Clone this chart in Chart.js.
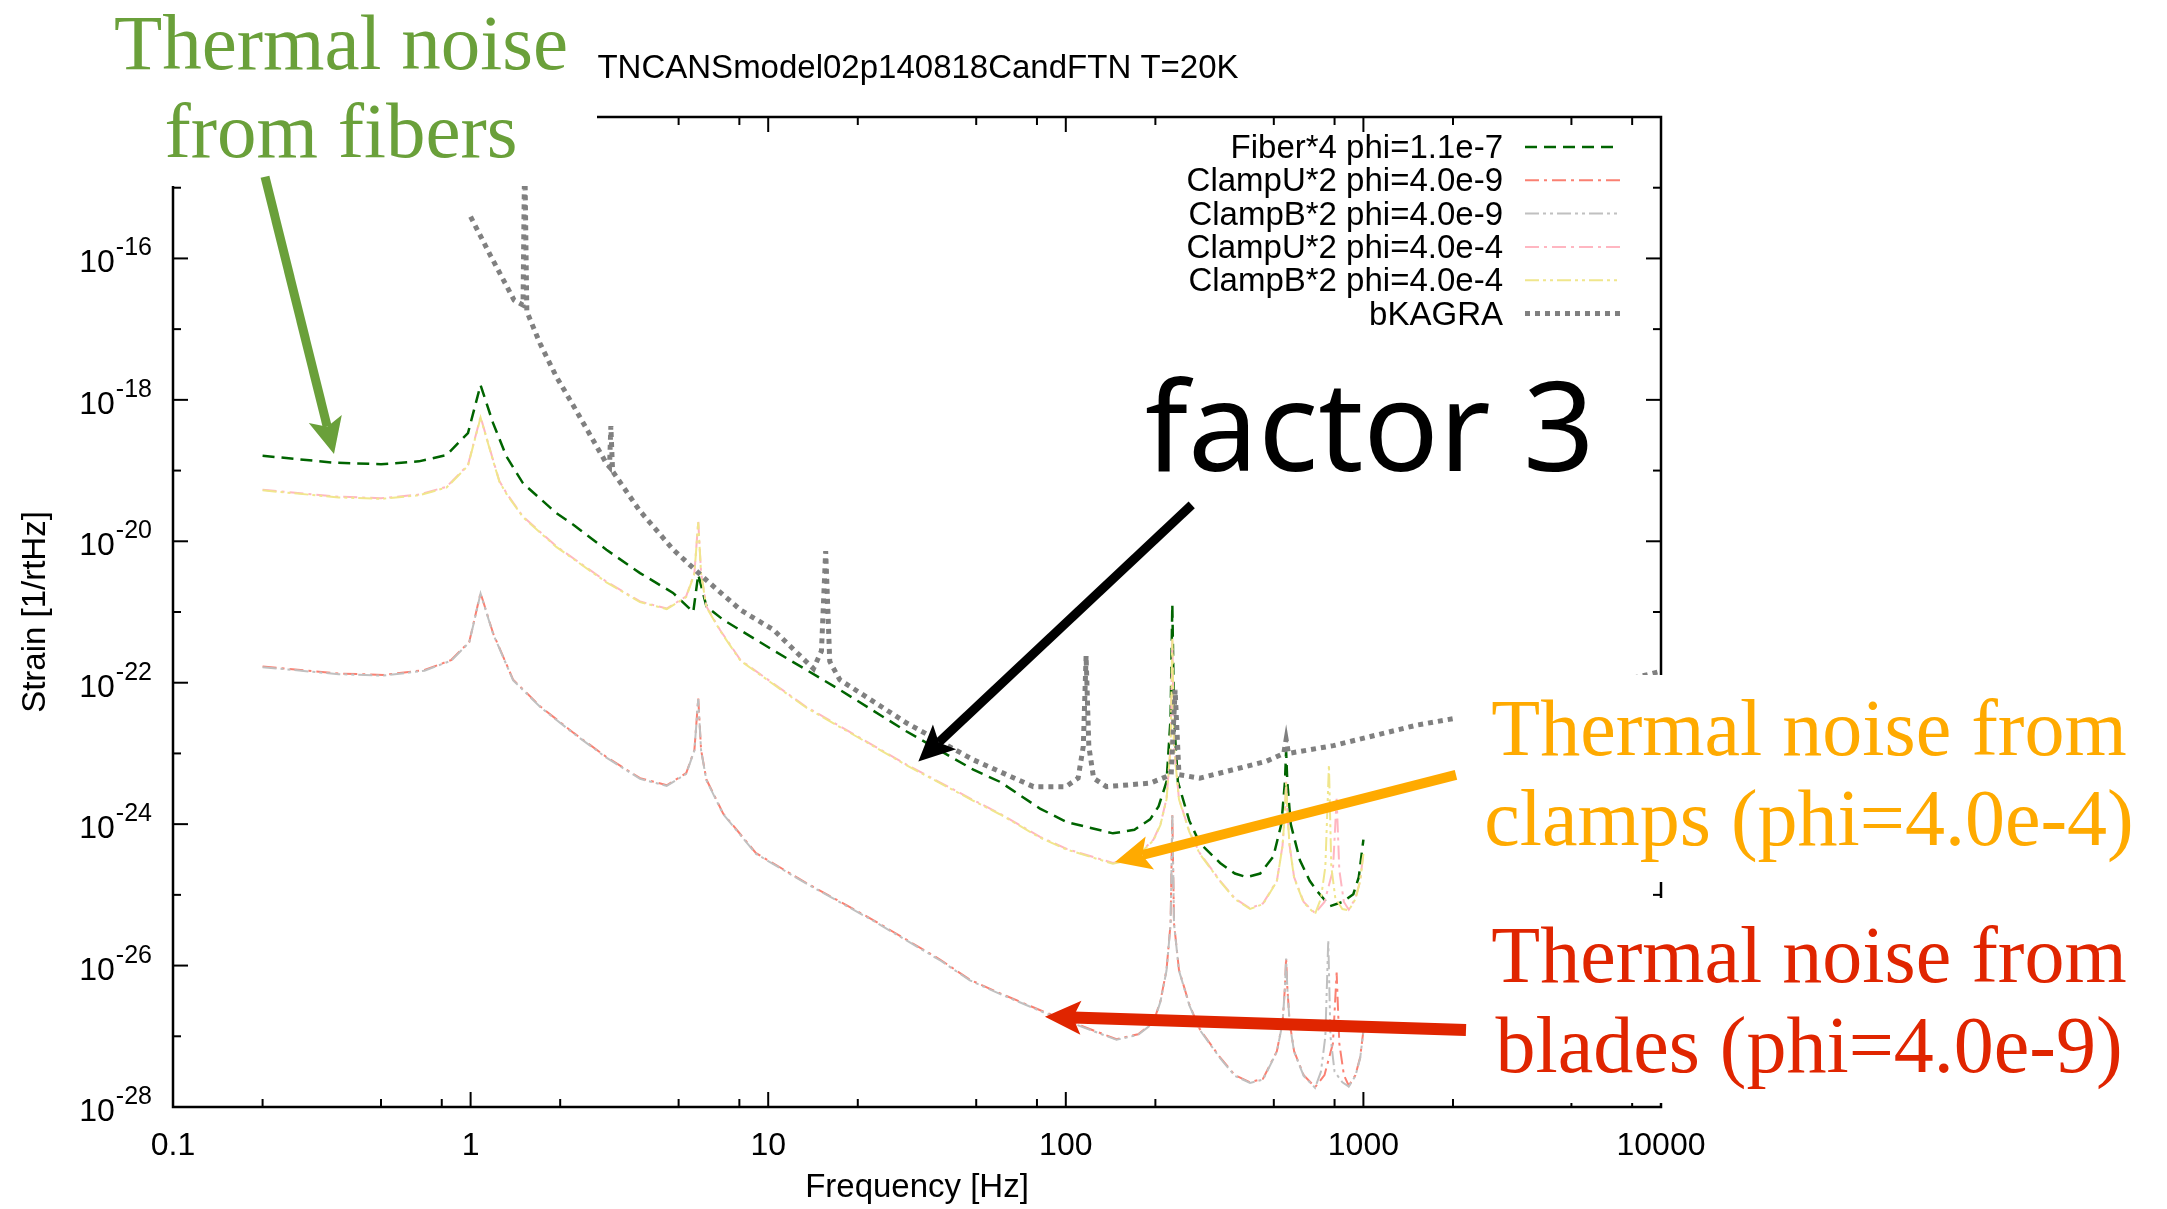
<!DOCTYPE html>
<html lang="en">
<head>
<meta charset="UTF-8">
<title>TNCANSmodel02p140818CandFTN T=20K</title>
<script src="https://cdn.jsdelivr.net/npm/chart.js"></script>
<style>
    html, body { margin: 0; padding: 0; background: #ffffff; overflow: hidden; }
    canvas { display: block; }
</style>
</head>
<body>
<canvas id="noiseChart" width="2167" height="1209"></canvas>
<script>
    // Values: frequency [Hz] and strain [1/rtHz]
    const fiberFreq = [0.2, 0.35, 0.5, 0.67, 0.83, 0.98, 1.08, 1.19, 1.32, 1.5, 1.94, 2.22, 2.86, 3.71, 4.79, 5.6, 5.82, 6.2, 7.06, 10.4, 17.4, 29.2, 48.9, 60, 81.9, 100.7, 144, 170, 192, 205, 218, 225, 228, 231, 238, 260, 282, 330, 370, 405, 450, 498, 530, 545, 550, 555, 570, 612, 660, 700, 772, 850, 925, 965, 1000];
    const fiberStrain = [1.62e-19, 1.29e-19, 1.23e-19, 1.35e-19, 1.66e-19, 3.39e-19, 1.62e-18, 4.68e-19, 1.58e-19, 6.61e-20, 2.51e-20, 1.70e-20, 7.59e-21, 3.55e-21, 1.86e-21, 1.0e-21, 3.39e-21, 1.20e-21, 7.76e-22, 2.88e-22, 7.94e-23, 2.04e-23, 5.89e-24, 3.98e-24, 1.66e-24, 1.07e-24, 7.41e-25, 8.32e-25, 1.17e-24, 1.78e-24, 3.98e-24, 3.16e-23, 1.29e-21, 3.16e-23, 3.98e-24, 1.12e-24, 5.37e-25, 2.82e-25, 2.0e-25, 1.78e-25, 2.0e-25, 3.47e-25, 1.0e-24, 3.98e-24, 1.07e-23, 3.98e-24, 1.0e-24, 3.09e-25, 1.58e-25, 1.12e-25, 6.92e-26, 7.94e-26, 1.02e-25, 1.78e-25, 6.03e-25];

    const clampU9Freq = [0.2, 0.36, 0.51, 0.7, 0.86, 0.99, 1.08, 1.19, 1.39, 1.72, 2.22, 2.86, 3.71, 4.56, 5.3, 5.65, 5.82, 5.95, 6.2, 7.06, 9.1, 13.4, 22.6, 38, 47.6, 60, 84, 148, 175, 197, 208, 218, 225, 228, 231, 240, 260, 282, 330, 370, 416, 460, 512, 535, 545, 550, 555, 565, 585, 630, 688, 740, 790, 813, 830, 860, 893, 940, 975, 1000];
    const clampU9Strain = [1.70e-22, 1.35e-22, 1.29e-22, 1.51e-22, 2.09e-22, 3.80e-22, 1.86e-21, 5.01e-22, 1.10e-22, 4.57e-23, 1.95e-23, 8.91e-24, 4.47e-24, 3.55e-24, 5.25e-24, 1.12e-23, 6.03e-23, 1.12e-23, 4.27e-24, 1.41e-24, 3.89e-25, 1.48e-25, 4.37e-26, 1.20e-26, 6.31e-27, 4.07e-27, 2.24e-27, 9.12e-28, 1.07e-27, 1.58e-27, 3.16e-27, 8.71e-27, 3.98e-26, 1.35e-24, 3.98e-26, 8.71e-27, 2.82e-27, 1.26e-27, 5.01e-28, 2.82e-28, 2.24e-28, 2.51e-28, 6.17e-28, 1.58e-27, 5.01e-27, 1.29e-26, 5.01e-27, 1.58e-27, 6.17e-28, 2.82e-28, 1.91e-28, 2.82e-28, 7.94e-28, 7.94e-27, 7.94e-28, 2.82e-28, 2.0e-28, 2.82e-28, 5.01e-28, 1.20e-27];

    const clampB9Freq = [0.2, 0.36, 0.51, 0.7, 0.86, 0.99, 1.08, 1.19, 1.39, 1.72, 2.22, 2.86, 3.71, 4.56, 5.3, 5.65, 5.82, 5.95, 6.2, 7.06, 9.1, 13.4, 22.6, 38, 47.6, 60, 84, 148, 175, 197, 208, 218, 225, 228, 231, 240, 260, 282, 330, 370, 416, 460, 512, 535, 545, 550, 555, 565, 585, 630, 688, 720, 745, 762, 775, 800, 850, 893, 940, 975, 1000];
    const clampB9Strain = [1.66e-22, 1.32e-22, 1.26e-22, 1.48e-22, 2.05e-22, 3.72e-22, 1.82e-21, 4.90e-22, 1.08e-22, 4.47e-23, 1.91e-23, 8.71e-24, 4.37e-24, 3.47e-24, 5.13e-24, 1.10e-23, 5.89e-23, 1.10e-23, 4.17e-24, 1.38e-24, 3.80e-25, 1.45e-25, 4.27e-26, 1.17e-26, 6.17e-27, 3.98e-27, 2.19e-27, 8.91e-28, 1.05e-27, 1.55e-27, 3.09e-27, 8.51e-27, 3.89e-26, 1.32e-24, 3.89e-26, 8.51e-27, 2.75e-27, 1.23e-27, 4.90e-28, 2.75e-28, 2.19e-28, 2.45e-28, 6.03e-28, 1.55e-27, 4.90e-27, 1.26e-26, 4.90e-27, 1.55e-27, 6.03e-28, 2.75e-28, 1.87e-28, 3.16e-28, 1.0e-27, 2.29e-26, 1.0e-27, 3.16e-28, 2.24e-28, 1.95e-28, 2.75e-28, 4.90e-28, 1.17e-27];

    const clampU4Freq = [0.2, 0.36, 0.5, 0.67, 0.83, 0.98, 1.08, 1.19, 1.25, 1.32, 1.5, 1.94, 2.86, 3.71, 4.56, 5.3, 5.65, 5.82, 5.95, 6.2, 6.88, 8.07, 13.4, 29.2, 48.9, 60, 81.9, 100.7, 144, 170, 197, 208, 218, 225, 228, 231, 240, 260, 282, 330, 370, 416, 460, 512, 535, 545, 550, 555, 565, 585, 630, 688, 740, 790, 813, 830, 860, 893, 940, 975, 1000];
    const clampU4Strain = [5.37e-20, 4.27e-20, 4.07e-20, 4.57e-20, 5.89e-20, 1.20e-19, 5.75e-19, 1.41e-19, 7.08e-20, 4.79e-20, 2.24e-20, 8.51e-21, 2.69e-21, 1.41e-21, 1.12e-21, 1.66e-21, 3.55e-21, 1.91e-20, 3.55e-21, 1.20e-21, 5.62e-22, 2.09e-22, 4.57e-23, 6.92e-24, 2.19e-24, 1.41e-24, 6.61e-25, 4.47e-25, 2.82e-25, 3.31e-25, 6.03e-25, 1.0e-24, 2.29e-24, 1.26e-23, 4.27e-22, 1.26e-23, 2.29e-24, 7.94e-25, 3.89e-25, 1.58e-25, 8.91e-26, 6.46e-26, 7.59e-26, 1.58e-25, 5.01e-25, 1.58e-24, 3.98e-24, 1.58e-24, 5.01e-25, 1.78e-25, 7.94e-26, 5.50e-26, 7.94e-26, 2.24e-25, 2.29e-24, 2.24e-25, 7.94e-26, 6.17e-26, 8.91e-26, 1.58e-25, 3.89e-25];

    const clampB4Freq = [0.2, 0.36, 0.5, 0.67, 0.83, 0.98, 1.08, 1.19, 1.25, 1.32, 1.5, 1.94, 2.86, 3.71, 4.56, 5.3, 5.65, 5.82, 5.95, 6.2, 6.88, 8.07, 13.4, 29.2, 48.9, 60, 81.9, 100.7, 144, 170, 197, 208, 218, 225, 228, 231, 240, 260, 282, 330, 370, 416, 460, 512, 535, 545, 550, 555, 565, 585, 630, 688, 720, 745, 766, 780, 805, 850, 893, 940, 975, 1000];
    const clampB4Strain = [5.25e-20, 4.17e-20, 3.98e-20, 4.47e-20, 5.75e-20, 1.17e-19, 5.62e-19, 1.38e-19, 6.92e-20, 4.68e-20, 2.19e-20, 8.32e-21, 2.63e-21, 1.38e-21, 1.10e-21, 1.62e-21, 3.47e-21, 1.86e-20, 3.47e-21, 1.17e-21, 5.50e-22, 2.04e-22, 4.47e-23, 6.76e-24, 2.14e-24, 1.38e-24, 6.46e-25, 4.37e-25, 2.75e-25, 3.24e-25, 5.89e-25, 9.77e-25, 2.24e-24, 1.23e-23, 4.17e-22, 1.23e-23, 2.24e-24, 7.76e-25, 3.80e-25, 1.55e-25, 8.71e-26, 6.31e-26, 7.41e-26, 1.55e-25, 4.90e-25, 1.55e-24, 3.89e-24, 1.55e-24, 4.90e-25, 1.74e-25, 7.76e-26, 5.37e-26, 8.91e-26, 2.51e-25, 6.92e-24, 2.51e-25, 8.91e-26, 6.31e-26, 6.03e-26, 8.71e-26, 1.55e-25, 3.80e-25];

    const kagraFreq = [1.0, 1.17, 1.40, 1.50, 1.52, 1.545, 1.71, 1.94, 2.22, 2.54, 2.86, 2.93, 2.96, 3.0, 3.69, 4.8, 6.2, 8.07, 10.4, 13.4, 14.2, 15.1, 15.6, 16.1, 17.4, 29.2, 48.9, 77.8, 100, 110, 114.5, 117, 119.5, 124, 137, 192, 226, 233, 240, 282, 473, 540, 550, 560, 793, 1510, 2056, 5000, 10000];
    const kagraStrain = [3.89e-16, 1.07e-16, 2.57e-17, 2.19e-17, 3.16e-15, 1.78e-17, 6.31e-18, 2.14e-18, 8.13e-19, 3.02e-19, 1.26e-19, 1.12e-19, 4.27e-19, 9.77e-20, 2.75e-20, 7.59e-21, 2.82e-21, 1.07e-21, 5.62e-22, 2.0e-22, 1.58e-22, 2.82e-22, 7.24e-21, 2.0e-22, 1.10e-22, 2.69e-23, 8.13e-24, 3.39e-24, 3.39e-24, 4.47e-24, 1.26e-23, 2.40e-22, 1.26e-23, 4.47e-24, 3.39e-24, 3.80e-24, 5.01e-24, 7.94e-23, 5.01e-24, 4.47e-24, 7.76e-24, 1.0e-23, 1.58e-23, 1.0e-23, 1.29e-23, 2.51e-23, 3.16e-23, 7.08e-23, 1.45e-22];

    // Axis ticks
    const xTickValues = [0.1, 1, 10, 100, 1000, 10000];
    const xTickLabels = ['0.1', '1', '10', '100', '1000', '10000'];
    const xMinorTicks = [0.2, 0.5, 0.8, 2, 5, 8, 20, 50, 80, 200, 500, 800, 2000, 5000, 8000];
    const yDecadeExps = [-28, -27, -26, -25, -24, -23, -22, -21, -20, -19, -18, -17, -16, -15, -14];
    const yLabelExps = [-28, -26, -24, -22, -20, -18, -16];

    // Slide annotations (arrows in data coordinates: [Hz, strain])
    const arrowNotes = [
        { from: [0.2038, 1.43e-15], to: [0.3475, 1.72e-19], color: '#6aa03a', width: 9 },
        { from: [264.9, 3.27e-20], to: [31.95, 7.66e-24], color: '#000000', width: 9 },
        { from: [2047, 4.97e-24], to: [146.3, 2.92e-25], color: '#ffaa00', width: 10 },
        { from: [2212, 1.23e-27], to: [85.1, 1.89e-27], color: '#e02500', width: 12 }
    ];

    const toPoints = (freq, strain) => freq.map((f, i) => ({ x: f, y: strain[i] }));

    function series(label, freq, strain, color, dash, width, order) {
        return {
            label: label,
            data: toPoints(freq, strain),
            borderColor: color,
            borderDash: dash,
            borderWidth: width,
            pointRadius: 0,
            tension: 0,
            fill: false,
            order: order
        };
    }

    function arrow(ctx, x1, y1, x2, y2, w, color) {
        const ang = Math.atan2(y2 - y1, x2 - x1);
        const c = Math.cos(ang), s = Math.sin(ang);
        const hl = 36, hw = 17;
        const bx = x2 - c * hl * 0.78, by = y2 - s * hl * 0.78;
        ctx.setLineDash([]);
        ctx.strokeStyle = color;
        ctx.fillStyle = color;
        ctx.lineWidth = w;
        ctx.lineCap = 'butt';
        ctx.beginPath();
        ctx.moveTo(x1, y1);
        ctx.lineTo(bx, by);
        ctx.stroke();
        ctx.beginPath();
        ctx.moveTo(x2, y2);
        ctx.lineTo(x2 - c * hl - s * hw, y2 - s * hl + c * hw);
        ctx.lineTo(bx, by);
        ctx.lineTo(x2 - c * hl + s * hw, y2 - s * hl - c * hw);
        ctx.closePath();
        ctx.fill();
    }

    // Box frame with inward ticks on all four sides, and 10^n labels
    const frameTicks = {
        id: 'frameTicks',
        afterDatasetsDraw(chart) {
            const { ctx, chartArea: a, scales: { x, y } } = chart;
            ctx.save();
            ctx.setLineDash([]);
            ctx.strokeStyle = '#000';
            ctx.lineWidth = 2.5;
            ctx.strokeRect(a.left, a.top, a.right - a.left, a.bottom - a.top);
            ctx.lineWidth = 2;
            const seg = (x1, y1, x2, y2) => { ctx.beginPath(); ctx.moveTo(x1, y1); ctx.lineTo(x2, y2); ctx.stroke(); };
            xTickValues.forEach(v => {
                const px = x.getPixelForValue(v);
                seg(px, a.bottom, px, a.bottom - 15);
                seg(px, a.top, px, a.top + 15);
            });
            xMinorTicks.forEach(v => {
                const px = x.getPixelForValue(v);
                seg(px, a.bottom, px, a.bottom - 8);
                seg(px, a.top, px, a.top + 8);
            });
            yDecadeExps.forEach(e => {
                const py = y.getPixelForValue(Math.pow(10, e));
                const len = (e % 2 === 0) ? 15 : 8;
                seg(a.left, py, a.left + len, py);
                seg(a.right, py, a.right - len, py);
            });
            ctx.fillStyle = '#000';
            ctx.textBaseline = 'alphabetic';
            ctx.textAlign = 'right';
            yLabelExps.forEach(e => {
                const py = y.getPixelForValue(Math.pow(10, e));
                ctx.font = '25px "Liberation Sans", Arial, sans-serif';
                const sup = String(e);
                const supW = ctx.measureText(sup).width;
                ctx.fillText(sup, 152, py - 3);
                ctx.font = '32px "Liberation Sans", Arial, sans-serif';
                ctx.fillText('10', 151 - supW, py + 14);
            });
            ctx.restore();
        }
    };

    // White panels, slide captions, arrows and the key
    const slideNotes = {
        id: 'slideNotes',
        afterDraw(chart) {
            const { ctx, scales: { x, y } } = chart;
            ctx.save();
            ctx.fillStyle = '#ffffff';
            ctx.fillRect(0, 0, 597, 186);
            ctx.fillRect(1456, 675, 711, 207);
            ctx.fillRect(1456, 898, 711, 205);

            ctx.textBaseline = 'alphabetic';
            ctx.textAlign = 'center';
            ctx.font = '79px "Liberation Serif", "Times New Roman", serif';
            ctx.fillStyle = '#6aa03a';
            ctx.fillText('Thermal noise', 341, 69);
            ctx.fillText('from fibers', 341, 157);

            ctx.font = '80px "Liberation Serif", "Times New Roman", serif';
            ctx.fillStyle = '#ffaa00';
            ctx.fillText('Thermal noise from', 1809, 755);
            ctx.fillText('clamps (phi=4.0e-4)', 1809, 845);
            ctx.fillStyle = '#e02500';
            ctx.fillText('Thermal noise from', 1809, 982);
            ctx.fillText('blades (phi=4.0e-9)', 1809, 1072);

            ctx.textAlign = 'left';
            ctx.font = '125px "Noto Sans", sans-serif';
            ctx.fillStyle = '#000000';
            ctx.fillText('factor 3', 1145, 471);

            ctx.textAlign = 'center';
            ctx.font = '33px "Liberation Sans", Arial, sans-serif';
            ctx.fillText('TNCANSmodel02p140818CandFTN T=20K', 918, 78);

            arrowNotes.forEach(n => {
                arrow(ctx,
                    x.getPixelForValue(n.from[0]), y.getPixelForValue(n.from[1]),
                    x.getPixelForValue(n.to[0]), y.getPixelForValue(n.to[1]),
                    n.width, n.color);
            });

            // key, top right inside the frame
            ctx.font = '33px "Liberation Sans", Arial, sans-serif';
            ctx.textAlign = 'right';
            chart.data.datasets.forEach((ds, i) => {
                const rowY = 147 + i * 33.3;
                ctx.fillStyle = '#000';
                ctx.fillText(ds.label, 1503, rowY + 11);
                ctx.strokeStyle = ds.borderColor;
                ctx.lineWidth = ds.borderWidth;
                ctx.setLineDash(ds.borderDash);
                ctx.beginPath();
                ctx.moveTo(1525, rowY);
                ctx.lineTo(1620, rowY);
                ctx.stroke();
            });
            ctx.restore();
        }
    };

    Chart.defaults.font.family = '"Liberation Sans", Arial, sans-serif';
    Chart.defaults.color = '#000000';

    const ctx = document.getElementById('noiseChart').getContext('2d');
    new Chart(ctx, {
        type: 'line',
        data: {
            datasets: [
                series('Fiber*4 phi=1.1e-7', fiberFreq, fiberStrain, '#006400', [12, 7], 2.5, 6),
                series('ClampU*2 phi=4.0e-9', clampU9Freq, clampU9Strain, '#fa8072', [14, 5, 3, 5], 2, 5),
                series('ClampB*2 phi=4.0e-9', clampB9Freq, clampB9Strain, '#c0c0c0', [14, 4, 3, 4, 3, 4], 2, 4),
                series('ClampU*2 phi=4.0e-4', clampU4Freq, clampU4Strain, '#ffb6c1', [14, 5, 3, 5], 2, 3),
                series('ClampB*2 phi=4.0e-4', clampB4Freq, clampB4Strain, '#f0e68c', [14, 4, 3, 4, 3, 4], 2, 2),
                series('bKAGRA', kagraFreq, kagraStrain, '#808080', [5, 5], 5, 1)
            ]
        },
        options: {
            responsive: false,
            animation: false,
            layout: { padding: { top: 117, right: 506, left: 0, bottom: 0 } },
            plugins: {
                legend: { display: false },
                tooltip: { enabled: false }
            },
            scales: {
                x: {
                    type: 'logarithmic',
                    min: 0.1,
                    max: 10000,
                    afterBuildTicks: scale => { scale.ticks = xTickValues.map(v => ({ value: v })); },
                    afterFit: scale => { scale.height = 102; },
                    grid: { display: false, drawTicks: false },
                    border: { display: false },
                    ticks: {
                        autoSkip: false,
                        maxRotation: 0,
                        padding: 20,
                        font: { size: 32 },
                        callback: (v, i) => xTickLabels[i]
                    },
                    title: {
                        display: true,
                        text: 'Frequency [Hz]',
                        font: { size: 33 },
                        padding: { top: 0, bottom: 1 }
                    }
                },
                y: {
                    type: 'logarithmic',
                    min: 1e-28,
                    max: 1e-14,
                    afterBuildTicks: scale => { scale.ticks = yDecadeExps.map(e => ({ value: Math.pow(10, e) })); },
                    afterFit: scale => { scale.width = 173; },
                    grid: { display: false, drawTicks: false },
                    border: { display: false },
                    ticks: { display: false },
                    title: {
                        display: true,
                        text: 'Strain [1/rtHz]',
                        font: { size: 33 },
                        padding: { top: 16, bottom: 0 }
                    }
                }
            }
        },
        plugins: [frameTicks, slideNotes]
    });
</script>
</body>
</html>
